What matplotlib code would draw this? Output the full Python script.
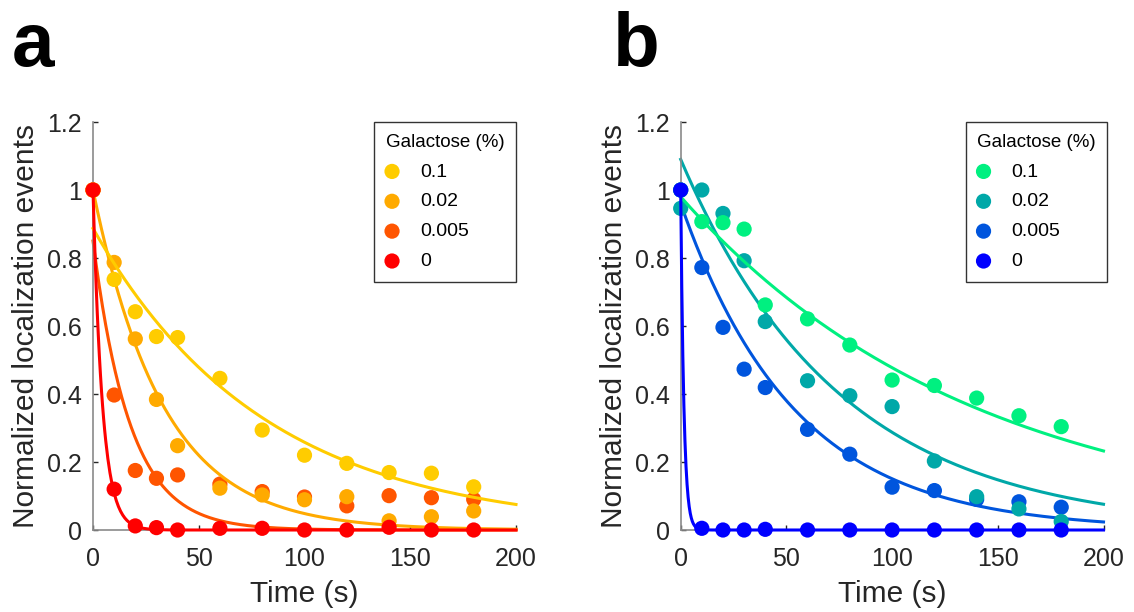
import numpy as np
import matplotlib
matplotlib.use("Agg")
import matplotlib.pyplot as plt

plt.rcParams['font.family'] = ['Liberation Sans', 'DejaVu Sans']

# ---------------- data ----------------
time_s = [0, 10, 20, 30, 40, 60, 80, 100, 120, 140, 160, 180]
galactose_labels = ["0.1", "0.02", "0.005", "0"]

# panel a
a_01 = [1.0, 0.737, 0.642, 0.569, 0.566, 0.446, 0.294, 0.220, 0.196, 0.169, 0.167, 0.127]
a_002 = [1.0, 0.787, 0.562, 0.384, 0.248, 0.123, 0.103, 0.089, 0.098, 0.027, 0.039, 0.056]
a_0005 = [1.0, 0.397, 0.175, 0.152, 0.162, 0.135, 0.113, 0.097, 0.071, 0.101, 0.095, 0.090]
a_0 = [1.0, 0.120, 0.012, 0.007, 0.0, 0.005, 0.005, 0.0, 0.0, 0.008, 0.0, 0.0]
# fitted single-exponential parameters (amplitude, time constant in s)
a_fit_amp = [0.887, 1.0, 0.85, 1.0]
a_fit_tau = [81.0, 33.0, 17.5, 4.5]

# panel b
b_01 = [1.0, 0.907, 0.904, 0.885, 0.662, 0.621, 0.544, 0.441, 0.425, 0.388, 0.336, 0.304]
b_002 = [0.946, 1.0, 0.931, 0.792, 0.613, 0.439, 0.395, 0.363, 0.203, 0.098, 0.062, 0.025]
b_0005 = [1.0, 0.772, 0.596, 0.473, 0.419, 0.296, 0.223, 0.126, 0.116, 0.090, 0.083, 0.067]
b_0 = [1.0, 0.005, 0.0, 0.0, 0.002, 0.0, 0.0, 0.0, 0.0, 0.0, 0.0, 0.0]
b_fit_amp = [0.98, 1.09, 0.96, 1.0]
b_fit_tau = [139.0, 75.0, 54.0, 1.5]

colors_a = ["#FFCC00", "#FFAA00", "#FF5500", "#FF0000"]
colors_b = ["#00F080", "#00A8A8", "#0055DD", "#0000FF"]

yticks = [0, 0.2, 0.4, 0.6, 0.8, 1.0, 1.2]
ytick_labels = ["0", "0.2", "0.4", "0.6", "0.8", "1", "1.2"]
xticks = [0, 50, 100, 150, 200]

# ---------------- figure ----------------
W, H = 1134, 612
fig = plt.figure(figsize=(W / 100, H / 100), dpi=100)

def axes_rect(left_px, right_px, top_px, bottom_px):
    return [left_px / W, 1 - bottom_px / H, (right_px - left_px) / W, (bottom_px - top_px) / H]

ax_a = fig.add_axes(axes_rect(93, 516, 122, 530))
ax_b = fig.add_axes(axes_rect(680.7, 1103.5, 122, 530))

zorders = [3, 2, 1, 4]  # 0.005 below 0.02 below 0.1, 0 on top

def draw_panel(ax, series, amps, taus, colors, legend_dx):
    tfit = np.linspace(0, 200, 400)
    handles = []
    for s, A, tau, c, z, lab in zip(series, amps, taus, colors, zorders, galactose_labels):
        ax.plot(tfit, A * np.exp(-tfit / tau), color=c, lw=2.2, zorder=z, clip_on=False)
        h = ax.scatter(time_s, s, s=120, color=c, edgecolors='none', zorder=z + 0.5,
                       clip_on=False, label=lab)
        handles.append(h)
    ax.set_xlim(0, 200)
    ax.set_ylim(0, 1.2)
    ax.set_xticks(xticks)
    ax.set_yticks(yticks)
    ax.set_yticklabels(ytick_labels)
    for sp in ['top', 'right']:
        ax.spines[sp].set_visible(False)
    for sp in ['left', 'bottom']:
        ax.spines[sp].set_color('#8a8a8a')
        ax.spines[sp].set_linewidth(1.2)
    ax.tick_params(direction='in', length=3.5, width=1.0, color='#262626',
                   labelsize=18, labelcolor='#262626')
    ax.tick_params(axis='x', pad=12)
    ax.tick_params(axis='y', pad=8)
    ax.set_xlabel("Time (s)", fontsize=21.5, color='#262626', labelpad=7)
    ax.set_ylabel("Normalized localization events", fontsize=21.5, color='#262626', labelpad=5)
    leg = ax.legend(handles=handles, labels=galactose_labels, title="Galactose (%)",
                    loc='upper right', bbox_to_anchor=(1.0 + legend_dx, 1.0),
                    borderaxespad=0.0, fontsize=14, title_fontsize=13.5,
                    frameon=True, fancybox=False, edgecolor='black',
                    handlelength=0.65, handletextpad=1.12, labelspacing=0.63,
                    borderpad=0.6, scatterpoints=1, alignment='left')
    leg.get_frame().set_linewidth(1.0)
    leg.set_zorder(10)
    return ax

draw_panel(ax_a, [a_01, a_002, a_0005, a_0], a_fit_amp, a_fit_tau, colors_a, 0.0)
draw_panel(ax_b, [b_01, b_002, b_0005, b_0], b_fit_amp, b_fit_tau, colors_b, 4 / 423)

fig.text(12 / W, 1 - 66 / H, "a", fontsize=55, fontweight='bold', ha='left', va='baseline')
fig.text(613 / W, 1 - 66 / H, "b", fontsize=55, fontweight='bold', ha='left', va='baseline')

fig.savefig("out.png", dpi=100)
